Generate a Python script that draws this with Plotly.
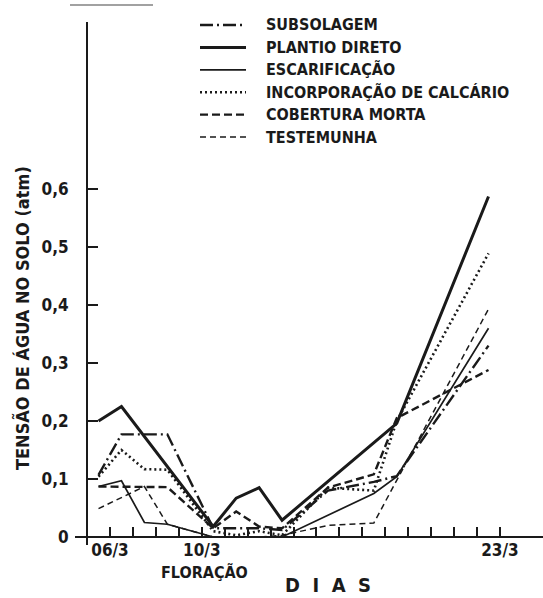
import plotly.graph_objects as go

# ---- data ----
DAYS = [5.5, 6.5, 7.5, 8.5, 10.5, 11.5, 12.5, 13.5, 15.5, 17.5, 18.5, 22.5]

SUBSOLAGEM = [0.107, 0.177, None, 0.177, 0.015, 0.015, 0.015, 0.012, 0.080, 0.095, 0.105, 0.330]
PLANTIO_DIRETO = [0.200, 0.225, None, None, 0.018, 0.067, 0.085, 0.029, None, None, 0.196, 0.587]
ESCARIFICACAO = [0.087, 0.097, 0.025, 0.022, 0.000, None, None, 0.000, None, 0.075, 0.104, 0.360]
INCORPORACAO_CALCARIO = [0.104, 0.150, 0.117, 0.116, 0.010, 0.003, 0.010, 0.003, 0.085, 0.080, 0.200, 0.489]
COBERTURA_MORTA = [0.087, None, None, 0.086, 0.015, 0.044, 0.018, 0.015, 0.085, 0.108, 0.205, 0.288]
TESTEMUNHA = [0.049, None, 0.087, 0.022, 0.000, None, 0.000, 0.003, 0.020, 0.024, None, 0.393]

SERIES_NAMES = ["SUBSOLAGEM", "PLANTIO DIRETO", "ESCARIFICAÇÃO",
                "INCORPORAÇÃO DE CALCÁRIO", "COBERTURA MORTA", "TESTEMUNHA"]
SERIES_VALUES = [SUBSOLAGEM, PLANTIO_DIRETO, ESCARIFICACAO,
                 INCORPORACAO_CALCARIO, COBERTURA_MORTA, TESTEMUNHA]

X_TICK_DAYS = list(range(6, 24))
X_TICK_LABELS = {6: "06/3", 10: "10/3", 23: "23/3"}
Y_TICKS = [0, 0.1, 0.2, 0.3, 0.4, 0.5, 0.6]
Y_TICK_LABELS = ["0", "0,1", "0,2", "0,3", "0,4", "0,5", "0,6"]

Y_TITLE = "TENSÃO DE ÁGUA NO SOLO (atm)"
X_TITLE = "D  I  A  S"
X_NOTE = "FLORAÇÃO"

# ---- styles ----
INK = "#1a1a1a"
FONT = "DejaVu Sans Condensed"
STYLES = [
    dict(width=2.4, dash="13px,4px,2px,4px"),
    dict(width=3.0, dash="solid"),
    dict(width=1.7, dash="solid"),
    dict(width=2.6, dash="2px,3px"),
    dict(width=2.4, dash="8px,4px"),
    dict(width=1.5, dash="6px,4px"),
]

W, H = 543, 598
ML, MR, MT, MB = 88, 0, 22, 53
PW, PH = W - ML - MR, H - MT - MB


def px(xp):
    return (xp - ML) / PW


def py(yp):
    return (H - MB - yp) / PH


fig = go.Figure()
for name, vals, st in zip(SERIES_NAMES, SERIES_VALUES, STYLES):
    fig.add_trace(go.Scatter(
        x=DAYS, y=vals, name=name, mode="lines", connectgaps=True,
        line=dict(color=INK, width=st["width"], dash=st["dash"]),
        showlegend=False, hoverinfo="skip",
    ))

x_left = 6 + (ML - 110) / 22.94
x_right = x_left + PW / 22.94
y_bot = -8 / 580
y_top = (537 - MT) / 580

fig.update_layout(
    width=W, height=H,
    margin=dict(l=ML, r=MR, t=MT, b=MB, autoexpand=False),
    paper_bgcolor="white", plot_bgcolor="white",
    font=dict(family=FONT, color=INK, size=16, weight="bold"),
    xaxis=dict(
        range=[x_left, x_right], anchor="free", position=8 / PH, automargin=False,
        showgrid=False, zeroline=False, showline=True, linecolor=INK, linewidth=2,
        tickmode="array", tickvals=X_TICK_DAYS,
        ticktext=[X_TICK_LABELS.get(d, "") for d in X_TICK_DAYS],
        ticks="inside", ticklen=9, tickwidth=1.6, tickcolor=INK,
        ticklabelstandoff=-2,
        tickfont=dict(family=FONT, size=17, color=INK, weight="bold"),
    ),
    yaxis=dict(
        range=[y_bot, y_top], automargin=False,
        showgrid=False, zeroline=False, showline=True, linecolor=INK, linewidth=2,
        tickmode="array", tickvals=Y_TICKS, ticktext=Y_TICK_LABELS,
        ticks="inside", ticklen=10, tickwidth=1.6, tickcolor=INK,
        ticklabelstandoff=14,
        tickfont=dict(family=FONT, size=17, color=INK, weight="bold"),
    ),
)

# x axis extension to the left of the y axis
fig.add_shape(type="line", xref="paper", yref="y", x0=px(75), x1=0, y0=0, y1=0,
              line=dict(color=INK, width=2))
# small rule at the top-left of the scan
fig.add_shape(type="line", xref="paper", yref="paper", x0=px(70), x1=px(153),
              y0=py(5), y1=py(5), line=dict(color="#444", width=1.2))

# legend drawn at the top
for i, (name, st) in enumerate(zip(SERIES_NAMES, STYLES)):
    yy = py(25 + 22.4 * i)
    fig.add_shape(type="line", xref="paper", yref="paper", x0=px(200), x1=px(246),
                  y0=yy, y1=yy, line=dict(color=INK, width=st["width"], dash=st["dash"]))
    fig.add_annotation(xref="paper", yref="paper", x=px(264), y=yy, text=name,
                       showarrow=False, xanchor="left", yanchor="middle",
                       font=dict(family=FONT, size=16, color=INK, weight="bold"))

fig.add_annotation(xref="paper", yref="paper", x=px(22), y=py(318), text=Y_TITLE,
                   textangle=-90, showarrow=False, xanchor="center", yanchor="middle",
                   font=dict(family=FONT, size=18, color=INK, weight="bold"))
fig.add_annotation(xref="paper", yref="paper", x=px(204), y=py(572), text=X_NOTE,
                   showarrow=False, xanchor="center", yanchor="middle",
                   font=dict(family=FONT, size=16, color=INK, weight="bold"))
fig.add_annotation(xref="paper", yref="paper", x=px(328), y=py(585), text=X_TITLE,
                   showarrow=False, xanchor="center", yanchor="middle",
                   font=dict(family=FONT, size=20, color=INK, weight="bold"))

fig.write_html("out.html", config={"displayModeBar": False},
               post_script="document.body.style.margin='0';")
